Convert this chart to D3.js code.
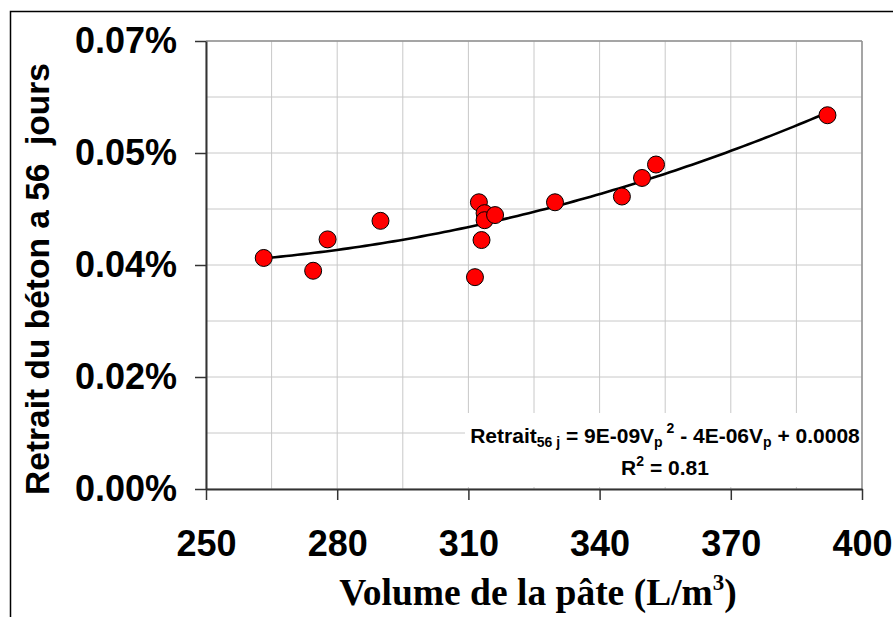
<!DOCTYPE html>
<html>
<head>
<meta charset="utf-8">
<script src="https://cdn.jsdelivr.net/npm/d3@7"></script>
<style>
html,body{margin:0;padding:0;background:#fff;}
svg{display:block;}
</style>
</head>
<body>
<svg id="chart" width="893" height="617"></svg>
<script>
// ---- data ----
const volume  = [263.2, 274.5, 277.8, 289.9, 312.4, 313.7, 313.7, 316.1, 313.0, 311.5, 329.8, 345.1, 349.7, 352.9, 392.1];
const retrait = [0.0361, 0.0341, 0.0390, 0.0419, 0.0448, 0.0431, 0.0420, 0.0428, 0.0389, 0.0331, 0.0448, 0.0457, 0.0486, 0.0507, 0.0584];
const xTicks = [250, 280, 310, 340, 370, 400];
const xMinor = [265, 295, 325, 355, 385];
const yTicks = [0, 0.0175, 0.035, 0.0525, 0.07];
const yTickLabels = ["0.00%", "0.02%", "0.04%", "0.05%", "0.07%"];
const yMinor = [0.00875, 0.02625, 0.04375, 0.06125];
const xTitle = "Volume de la pâte (L/m";
const yTitle = "Retrait du béton a 56  jours";

const svg = d3.select("#chart");
const L = 206, T = 41, W = 656, H = 448;
const x = d3.scaleLinear().domain([250, 400]).range([L, L + W]);
const y = d3.scaleLinear().domain([0, 0.07]).range([T + H, T]);

// outer frame
svg.append("rect").attr("x", 10.5).attr("y", 11.5).attr("width", 950).attr("height", 700)
  .attr("fill", "none").attr("stroke", "#000").attr("stroke-width", 1.5);

// grid
const g = svg.append("g");
g.selectAll("line.vx").data(xTicks.concat(xMinor)).enter().append("line")
  .attr("x1", d => x(d)).attr("x2", d => x(d)).attr("y1", T).attr("y2", T + H)
  .attr("stroke", "#c8c8c8").attr("stroke-width", 1);
g.selectAll("line.hy").data(yTicks.concat(yMinor)).enter().append("line")
  .attr("y1", d => y(d)).attr("y2", d => y(d)).attr("x1", L).attr("x2", L + W)
  .attr("stroke", "#c8c8c8").attr("stroke-width", 1);
// plot border top/right
svg.append("line").attr("x1", L).attr("x2", L + W).attr("y1", T).attr("y2", T).attr("stroke", "#909090").attr("stroke-width", 1.5);
svg.append("line").attr("x1", L + W).attr("x2", L + W).attr("y1", T).attr("y2", T + H).attr("stroke", "#909090").attr("stroke-width", 1.5);

// equation box (white background)
svg.append("rect").attr("x", 465).attr("y", 413).attr("width", L + W - 1 - 465).attr("height", 74).attr("fill", "#fff");

// trendline: least squares quadratic fit from data
(function () {
  const n = volume.length;
  const xm = d3.mean(volume);
  let S = [0,0,0,0,0], Sy = [0,0,0];
  for (let i = 0; i < n; i++) {
    const u = volume[i] - xm;
    for (let k = 0; k < 5; k++) S[k] += Math.pow(u, k);
    for (let k = 0; k < 3; k++) Sy[k] += retrait[i] * Math.pow(u, k);
  }
  const A = [[S[0],S[1],S[2],Sy[0]],[S[1],S[2],S[3],Sy[1]],[S[2],S[3],S[4],Sy[2]]];
  for (let c = 0; c < 3; c++) {
    for (let r = c + 1; r < 3; r++) {
      const f = A[r][c] / A[c][c];
      for (let k = c; k < 4; k++) A[r][k] -= f * A[c][k];
    }
  }
  const coef = [0,0,0];
  for (let r = 2; r >= 0; r--) {
    let s = A[r][3];
    for (let k = r + 1; k < 3; k++) s -= A[r][k] * coef[k];
    coef[r] = s / A[r][r];
  }
  const x0 = d3.min(volume), x1 = d3.max(volume);
  const pts = d3.range(0, 101).map(i => {
    const v = x0 + (x1 - x0) * i / 100, u = v - xm;
    return [v, coef[0] + coef[1] * u + coef[2] * u * u];
  });
  svg.append("path").datum(pts)
    .attr("d", d3.line().x(d => x(d[0])).y(d => y(d[1])))
    .attr("fill", "none").attr("stroke", "#000").attr("stroke-width", 2.6);
})();

// axes
const yAxis = d3.axisLeft(y).tickValues(yTicks).tickFormat((d, i) => yTickLabels[i]).tickSize(11).tickPadding(18).tickSizeOuter(0);
const ya = svg.append("g").attr("transform", `translate(${L},0)`).call(yAxis);
ya.selectAll("text").attr("font-family", "'Liberation Sans', Arial, sans-serif").attr("font-weight", "bold").attr("font-size", 36).attr("fill", "#000");
ya.selectAll("line").attr("stroke", "#333").attr("stroke-width", 1.5);
ya.select(".domain").attr("stroke", "#333").attr("stroke-width", 2);

const xAxis = d3.axisBottom(x).tickValues(xTicks).tickFormat(d3.format("d")).tickSize(11).tickPadding(30).tickSizeOuter(0);
const xa = svg.append("g").attr("transform", `translate(0,${T + H})`).call(xAxis);
xa.selectAll("text").attr("font-family", "'Liberation Sans', Arial, sans-serif").attr("font-weight", "bold").attr("font-size", 36).attr("fill", "#000");
xa.selectAll("line").attr("stroke", "#333").attr("stroke-width", 1.5);
xa.select(".domain").attr("stroke", "#333").attr("stroke-width", 2);

// points
svg.append("g").selectAll("circle").data(volume.map((v, i) => [v, retrait[i]])).enter().append("circle")
  .attr("cx", d => x(d[0])).attr("cy", d => y(d[1])).attr("r", 8.5)
  .attr("fill", "#ff0000").attr("stroke", "#000").attr("stroke-width", 1);

// equation
const eq = svg.append("text").attr("x", 665).attr("y", 443).attr("text-anchor", "middle")
  .attr("font-family", "'Liberation Sans', Arial, sans-serif").attr("font-weight", "bold").attr("font-size", 21).attr("fill", "#000");
eq.append("tspan").text("Retrait");
eq.append("tspan").attr("font-size", 14).attr("dy", 4).text("56 j");
eq.append("tspan").attr("dy", -4).text(" = 9E-09V");
eq.append("tspan").attr("font-size", 14).attr("dy", 4).text("p");
eq.append("tspan").attr("font-size", 14).attr("dy", -14).text(" 2");
eq.append("tspan").attr("dy", 10).text(" - 4E-06V");
eq.append("tspan").attr("font-size", 14).attr("dy", 4).text("p");
eq.append("tspan").attr("dy", -4).text(" + 0.0008");

const r2 = svg.append("text").attr("x", 665).attr("y", 475).attr("text-anchor", "middle")
  .attr("font-family", "'Liberation Sans', Arial, sans-serif").attr("font-weight", "bold").attr("font-size", 21).attr("fill", "#000");
r2.append("tspan").text("R");
r2.append("tspan").attr("font-size", 14).attr("dy", -9).text("2");
r2.append("tspan").attr("dy", 9).text(" = 0.81");

// axis titles
const xt = svg.append("text").attr("x", 538).attr("y", 605).attr("text-anchor", "middle")
  .attr("font-family", "'Liberation Serif', 'Times New Roman', serif").attr("font-weight", "bold").attr("font-size", 37.5).attr("fill", "#000");
xt.append("tspan").text(xTitle);
xt.append("tspan").attr("font-size", 23).attr("dy", -15).text("3");
xt.append("tspan").attr("dy", 15).text(")");

svg.append("text").attr("transform", "translate(49,279) rotate(-90)").attr("text-anchor", "middle")
  .attr("font-family", "'Liberation Sans', Arial, sans-serif").attr("font-weight", "bold").attr("font-size", 33.5).attr("fill", "#000")
  .attr("xml:space", "preserve").style("white-space", "pre")
  .text(yTitle);
</script>
</body>
</html>
